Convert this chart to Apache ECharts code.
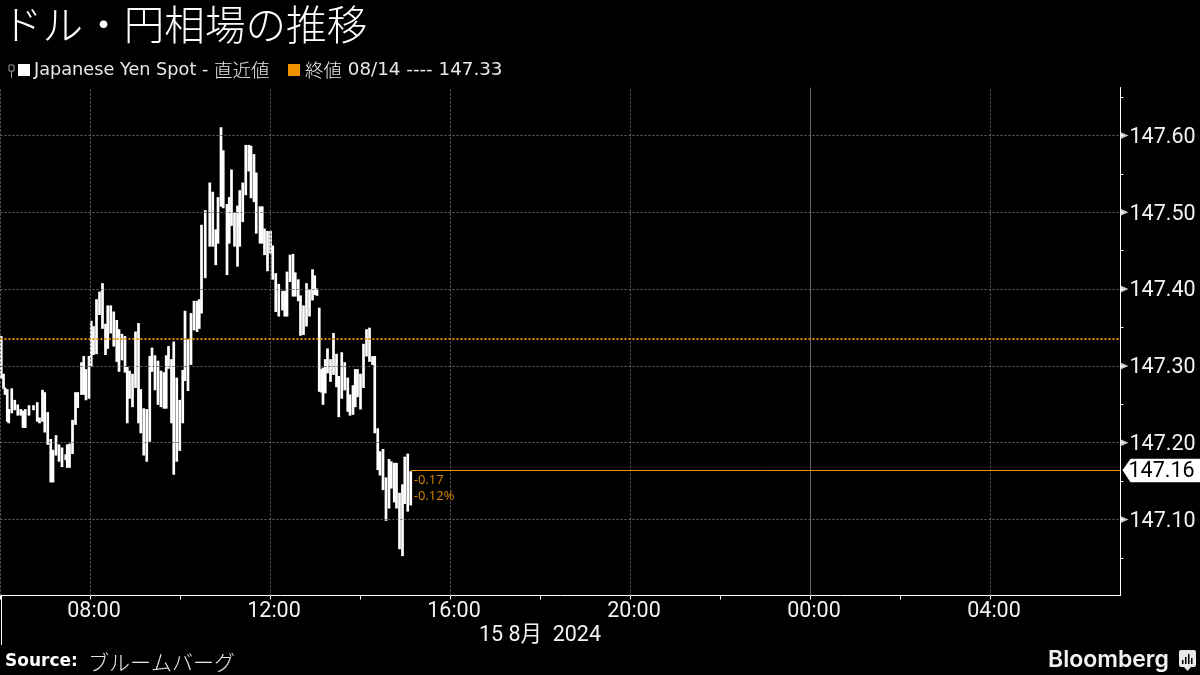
<!DOCTYPE html>
<html><head><meta charset="utf-8">
<style>html,body{margin:0;padding:0;background:#000}#c{width:1200px;height:675px}</style>
<script src="https://cdn.jsdelivr.net/npm/echarts@6/dist/echarts.min.js"></script>
</head><body><div id="c"></div>
<script>
const titleText='ドル・円相場の推移';
const seriesNameLatin='Japanese Yen Spot - ';
const seriesNameCjk='直近値';
const prevNameCjk='終値';
const prevNameLatin=' 08/14 ---- 147.33';
const prevClose=147.335;
const lastPrice=147.164;
const lastLabel='147.16';
const changeLabels=['-0.17','-0.12%'];
const dateLabel='15 8月  2024';
const sourceName='ブルームバーグ';
const yLabels=[147.1,147.2,147.3,147.4,147.5,147.6];
const yMinor=[147.05,147.15,147.25,147.35,147.45,147.55,147.65];
const xMin=360, xMax=1853.33, yMin=147.001, yMax=147.6625;
const xDashed=[360,480,720,960,1200,1680];
const xSolid=[1440];
const xTicks=[360,480,600,720,840,960,1080,1200,1320,1440,1560,1680];
const xLabels=[480,720,960,1200,1440,1680];
const minutes=[361,364,366,369,371,375,379,383,387,390,393,398,404,409,412,416,419,423,427,430,434,438,442,447,449,452,456,460,463,468,471,474,478,481,484,488,492,496,500,503,507,511,515,518,522,526,529,532,536,540,544,547,551,555,559,562,566,570,574,578,581,584,588,591,595,599,603,606,610,614,618,622,625,628,633,639,643,647,650,654,657,662,665,668,672,676,679,683,687,691,694,698,701,706,709,712,716,720,723,727,731,736,739,742,746,750,753,757,760,764,768,772,776,779,782,785,788,790,793,796,800,804,808,811,815,819,823,826,830,833,836,840,844,848,852,856,859,863,866,870,874,878,881,885,888,892,896,899,903,907];
const highs=[147.337,147.288,147.270,147.268,147.242,147.269,147.254,147.248,147.242,147.240,147.242,147.247,147.247,147.251,147.231,147.267,147.264,147.238,147.203,147.189,147.208,147.196,147.192,147.183,147.196,147.197,147.228,147.264,147.264,147.303,147.311,147.294,147.311,147.357,147.350,147.385,147.395,147.406,147.353,147.377,147.377,147.369,147.358,147.346,147.340,147.337,147.297,147.292,147.288,147.343,147.354,147.268,147.243,147.242,147.311,147.322,147.312,147.305,147.292,147.290,147.312,147.324,147.307,147.330,147.283,147.254,147.293,147.370,147.333,147.367,147.383,147.383,147.385,147.482,147.501,147.537,147.525,147.476,147.518,147.609,147.579,147.509,147.518,147.554,147.498,147.507,147.527,147.537,147.586,147.586,147.585,147.574,147.550,147.506,147.506,147.477,147.474,147.474,147.455,147.419,147.405,147.396,147.396,147.421,147.443,147.444,147.420,147.411,147.390,147.377,147.406,147.398,147.424,147.416,147.399,147.374,147.294,147.296,147.307,147.321,147.307,147.341,147.314,147.285,147.316,147.303,147.283,147.261,147.273,147.294,147.294,147.288,147.327,147.346,147.348,147.311,147.311,147.217,147.187,147.190,147.153,147.177,147.174,147.172,147.172,147.133,147.144,147.180,147.184,147.161];
const lows=[147.285,147.272,147.264,147.229,147.227,147.240,147.244,147.237,147.237,147.221,147.221,147.237,147.244,147.229,147.227,147.229,147.215,147.199,147.150,147.150,147.185,147.177,147.170,147.179,147.169,147.169,147.187,147.225,147.247,147.264,147.264,147.257,147.259,147.301,147.316,147.317,147.368,147.350,147.316,147.324,147.344,147.327,147.307,147.294,147.309,147.293,147.227,147.259,147.248,147.273,147.227,147.214,147.185,147.177,147.203,147.294,147.270,147.251,147.248,147.246,147.246,147.298,147.227,147.160,147.177,147.191,147.227,147.282,147.269,147.303,147.348,147.346,147.350,147.370,147.416,147.457,147.457,147.433,147.461,147.509,147.507,147.420,147.461,147.484,147.457,147.431,147.457,147.489,147.524,147.555,147.520,147.515,147.474,147.461,147.461,147.446,147.425,147.448,147.414,147.372,147.366,147.374,147.366,147.366,147.411,147.392,147.392,147.386,147.341,147.342,147.353,147.366,147.387,147.394,147.393,147.268,147.267,147.251,147.266,147.292,147.281,147.290,147.274,147.235,147.259,147.270,147.242,147.237,147.238,147.248,147.261,147.245,147.273,147.314,147.307,147.303,147.214,147.166,147.159,147.140,147.100,147.116,147.142,147.124,147.116,147.063,147.054,147.122,147.112,147.120];

const FONT='Roboto, "Noto Sans CJK JP", sans-serif';
const ORANGE='#f39200', DIM='#d98200', GRID='#666';
const fmt=m=>{const h=Math.floor(m/60)%24;return String(h).padStart(2,'0')+':'+String(m%60).padStart(2,'0');};
const rows=minutes.map((m,i)=>[m,highs[i],lows[i]]);
const lastT=minutes[minutes.length-1];
const legendRich={a:{fill:'#e8e8e8',font:'17.7px "DejaVu Sans"'},c:{fill:'#e8e8e8',font:'18.3px "DejaVu Sans"'},b:{fill:'#e8e8e8',font:'300 18.5px "Noto Sans CJK JP"'}};

const chart=echarts.init(document.getElementById('c'),null,{renderer:'canvas'});
chart.setOption({
 backgroundColor:'#000',animation:false,
 title:{text:titleText,left:2,top:1,padding:0,textStyle:{color:'#fff',fontFamily:'"Noto Sans CJK JP"',fontWeight:300,fontSize:40.6,lineHeight:48}},
 grid:{left:0.5,right:79.5,top:87.5,bottom:79.5,containLabel:false},
 xAxis:{type:'value',min:xMin,max:xMax,
  axisLine:{show:true,onZero:false,lineStyle:{color:'#fff',width:1}},
  axisTick:{show:true,length:4,customValues:xTicks,lineStyle:{color:'#fff'}},
  axisLabel:{customValues:xLabels,margin:5,padding:[0,0,0,7],color:'#f2f2f2',fontFamily:FONT,fontSize:21.5,formatter:v=>fmt(v)},
  splitLine:{show:false}},
 yAxis:{type:'value',position:'right',min:yMin,max:yMax,
  axisLine:{show:true,onZero:false,lineStyle:{color:'#fff',width:1}},
  axisTick:{show:true,length:3,customValues:yMinor.concat(yLabels),lineStyle:{color:'#fff'}},
  axisLabel:{customValues:yLabels,margin:9,color:'#f2f2f2',fontFamily:FONT,fontSize:21.5,formatter:v=>'{a|'+v.toFixed(2)+'}',
   rich:{a:{color:'#f2f2f2',fontFamily:FONT,fontSize:21.5,padding:[4,0,0,0]}}},
  splitLine:{show:false}},
 series:[
  {type:'line',name:'grid',data:[],silent:true,z:1,
   markLine:{silent:true,symbol:'none',animation:false,precision:4,label:{show:false},
    data:[...yLabels.map(v=>({yAxis:v,lineStyle:{color:GRID,type:[2,2],width:1}})),
          ...xDashed.map(v=>({xAxis:v,lineStyle:{color:GRID,type:[2,2],width:1}})),
          ...xSolid.map(v=>({xAxis:v,lineStyle:{color:'#666',type:'solid',width:1}}))]}},
  {type:'custom',name:'Japanese Yen Spot',z:3,data:rows,clip:false,
   renderItem:(p,api)=>{
    const a=api.coord([api.value(0),api.value(1)]),b=api.coord([api.value(0),api.value(2)]);
    return {type:'line',shape:{x1:a[0],y1:a[1],x2:b[0],y2:b[1]},style:{stroke:'#fff',lineWidth:2.7,lineCap:'square'}};
   },encode:{x:0,y:[1,2]}},
  {type:'line',name:'levels',data:[],silent:true,z:4,
   markLine:{silent:true,symbol:'none',animation:false,precision:4,label:{show:false},
    data:[{yAxis:prevClose,lineStyle:{color:ORANGE,type:[2,2],width:2,opacity:.95}},
          [{coord:[lastT,lastPrice],lineStyle:{color:ORANGE,type:'solid',width:1}},{coord:[xMax,lastPrice]}]]}},
  {type:'scatter',name:'arrows',clip:false,silent:true,z:5,data:yLabels.map(v=>[xMax,v]),
   symbol:'triangle',symbolRotate:-90,symbolSize:[7,8],symbolOffset:[4,0],itemStyle:{color:'#fff'}},
  {type:'custom',name:'lastTag',clip:false,silent:true,z:6,data:[[xMax,lastPrice]],
   renderItem:(p,api)=>{
    const c=api.coord([api.value(0),api.value(1)]);
    const x=c[0]+2,y=c[1];
    return {type:'group',children:[
     {type:'polygon',shape:{points:[[x,y],[x+8,y-11.5],[x+78,y-11.5],[x+78,y+12],[x+8,y+12]]},style:{fill:'#fff'}},
     {type:'text',style:{x:x+6,y:y+1,text:lastLabel,fill:'#000',font:'21.5px Roboto',textVerticalAlign:'middle'}}]};
   }},
  {type:'custom',name:'change',clip:false,silent:true,z:6,data:[[lastT,lastPrice]],
   renderItem:(p,api)=>{
    const c=api.coord([api.value(0),api.value(1)]);
    return {type:'group',children:changeLabels.map((t,i)=>({type:'text',style:{x:c[0]+3,y:c[1]+10+16*i,text:t,fill:DIM,font:'13px "Open Sans"',textVerticalAlign:'middle'}}))};
   }}
 ],
 graphic:[
  {type:'rect',shape:{x:9,y:65,width:5,height:6},style:{fill:'none',stroke:'#999',lineWidth:1}},
  {type:'line',shape:{x1:11.5,y1:71,x2:11.5,y2:78},style:{stroke:'#999',lineWidth:1}},
  {type:'rect',shape:{x:18,y:64,width:12,height:12},style:{fill:'#fff'}},
  {type:'text',x:34,y:70,style:{text:'{a|'+seriesNameLatin+'}{b|'+seriesNameCjk+'}',rich:legendRich,textVerticalAlign:'middle'}},
  {type:'rect',shape:{x:288,y:64,width:12,height:12},style:{fill:ORANGE}},
  {type:'text',x:305,y:70,style:{text:'{b|'+prevNameCjk+'}{c|'+prevNameLatin+'}',rich:legendRich,textVerticalAlign:'middle'}},
  {type:'line',shape:{x1:1.5,y1:595,x2:1.5,y2:645},style:{stroke:'#fff',lineWidth:1}},
  {type:'text',x:540,y:636,style:{text:dateLabel,fill:'#f2f2f2',font:'21.5px '+FONT,textAlign:'center',textVerticalAlign:'middle'}},
  {type:'text',x:5,y:662,style:{text:'Source:',fill:'#fff',font:'bold 17px "DejaVu Sans"',textVerticalAlign:'middle'}},
  {type:'text',x:88,y:662,style:{text:sourceName,fill:'#e8e8e8',font:'300 21px "Noto Sans CJK JP"',textVerticalAlign:'middle'}},
  {type:'text',x:1048,y:660,style:{text:'Bloomberg',fill:'#f2f2f2',font:'600 23px Inter, Roboto',textVerticalAlign:'middle'}},
  {type:'rect',shape:{x:1179,y:650,width:17,height:17,r:2},style:{fill:'#e8e8e8'}},
  {type:'polygon',shape:{points:[[1184,667],[1191,667],[1187.5,671]]},style:{fill:'#e8e8e8'}},
  {type:'rect',shape:{x:1182,y:660,width:1.5,height:4},style:{fill:'#000'}},
  {type:'rect',shape:{x:1185,y:657,width:1.5,height:7},style:{fill:'#000'}},
  {type:'rect',shape:{x:1188,y:654,width:1.5,height:10},style:{fill:'#000'}},
  {type:'rect',shape:{x:1191,y:658,width:1.5,height:6},style:{fill:'#000'}}
 ]
});
</script></body></html>
